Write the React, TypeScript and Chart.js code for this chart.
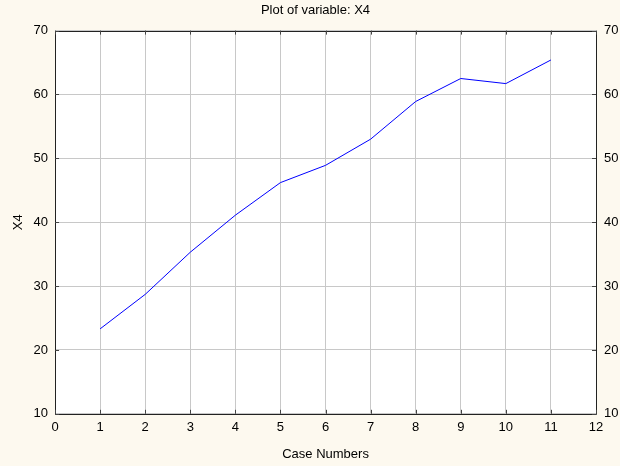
import React, { useEffect, useRef } from "react";
import { Chart, registerables } from "chart.js";

Chart.register(...registerables);

const caseNumbers = [1, 2, 3, 4, 5, 6, 7, 8, 9, 10, 11];
const x4Values = [23.3, 28.7, 35.3, 41.1, 46.2, 48.9, 53.0, 58.9, 62.5, 61.7, 65.4];
const chartTitle = "Plot of variable: X4";
const xAxisTitle = "Case Numbers";
const yAxisTitle = "X4";

const FONT = "'Liberation Sans', Arial, sans-serif";

const framePlugin = {
  id: "frame",
  beforeDraw(chart: any) {
    const { ctx, chartArea } = chart;
    ctx.save();
    ctx.fillStyle = "#ffffff";
    ctx.fillRect(chartArea.left, chartArea.top, chartArea.right - chartArea.left, chartArea.bottom - chartArea.top);
    ctx.restore();
  },
  afterDraw(chart: any) {
    const { ctx, chartArea, scales } = chart;
    const { left, right, top, bottom } = chartArea;
    ctx.save();
    ctx.strokeStyle = "#222222";
    ctx.lineWidth = 1;
    ctx.beginPath();
    ctx.rect(Math.round(left) + 0.5, Math.round(top) + 0.5, Math.round(right - left), Math.round(bottom - top));
    ctx.stroke();
    ctx.strokeStyle = "#444444";
    ctx.beginPath();
    const xs = scales.x;
    for (let v = 0; v <= 12; v++) {
      const px = Math.round(xs.getPixelForValue(v)) + 0.5;
      ctx.moveTo(px, bottom);
      ctx.lineTo(px, bottom - 4);
      ctx.moveTo(px, top);
      ctx.lineTo(px, top + 4);
    }
    const ys = scales.y;
    for (let v = 10; v <= 70; v += 10) {
      const py = Math.round(ys.getPixelForValue(v)) + 0.5;
      ctx.moveTo(left, py);
      ctx.lineTo(left + 4, py);
      ctx.moveTo(right, py);
      ctx.lineTo(right - 4, py);
    }
    ctx.stroke();
    ctx.restore();
  },
};

export default function App() {
  const ref = useRef<HTMLCanvasElement>(null);
  useEffect(() => {
    if (!ref.current) return;
    const chart = new Chart(ref.current, {
      type: "line",
      data: {
        datasets: [
          {
            data: caseNumbers.map((c, i) => ({ x: c, y: x4Values[i] })),
            borderColor: "#0000ff",
            borderWidth: 1,
            pointRadius: 0,
            tension: 0,
            fill: false,
          },
        ],
      },
      options: {
        animation: false,
        responsive: false,
        maintainAspectRatio: false,
        layout: { padding: { left: 11, right: 0, top: 2, bottom: 4 } },
        plugins: {
          legend: { display: false },
          tooltip: { enabled: false },
          title: {
            display: true,
            text: chartTitle,
            color: "#000000",
            font: { family: FONT, size: 13, weight: "normal" },
            padding: { top: 1, bottom: 12 },
          },
        },
        scales: {
          x: {
            type: "linear",
            min: 0,
            max: 12,
            border: { display: false },
            grid: { color: "#c8c8c8", drawTicks: false, lineWidth: 1 },
            ticks: { stepSize: 1, color: "#000000", font: { family: FONT, size: 13 }, padding: 6, maxRotation: 0 },
            title: { display: true, text: xAxisTitle, color: "#000000", font: { family: FONT, size: 13 }, padding: { top: 5, bottom: 0 } },
          },
          y: {
            type: "linear",
            position: "left",
            min: 10,
            max: 70,
            border: { display: false },
            grid: { color: "#c8c8c8", drawTicks: false, lineWidth: 1 },
            ticks: { stepSize: 10, color: "#000000", font: { family: FONT, size: 13 }, padding: 7 },
            title: { display: true, text: yAxisTitle, color: "#000000", font: { family: FONT, size: 13 }, padding: { top: 0, bottom: 0 } },
          },
          y2: {
            type: "linear",
            position: "right",
            min: 10,
            max: 70,
            border: { display: false },
            grid: { display: false, drawTicks: false },
            ticks: { stepSize: 10, color: "#000000", font: { family: FONT, size: 13 }, padding: 8 },
            afterFit: (scale: any) => {
              scale.width = 24;
            },
          },
        },
      },
      plugins: [framePlugin],
    });
    return () => chart.destroy();
  }, []);
  return (
    <div style={{ position: "fixed", left: 0, top: 0, width: 620, height: 466, background: "#fdf9ef" }}>
      <canvas ref={ref} width={620} height={466} style={{ display: "block", width: 620, height: 466 }} />
    </div>
  );
}
